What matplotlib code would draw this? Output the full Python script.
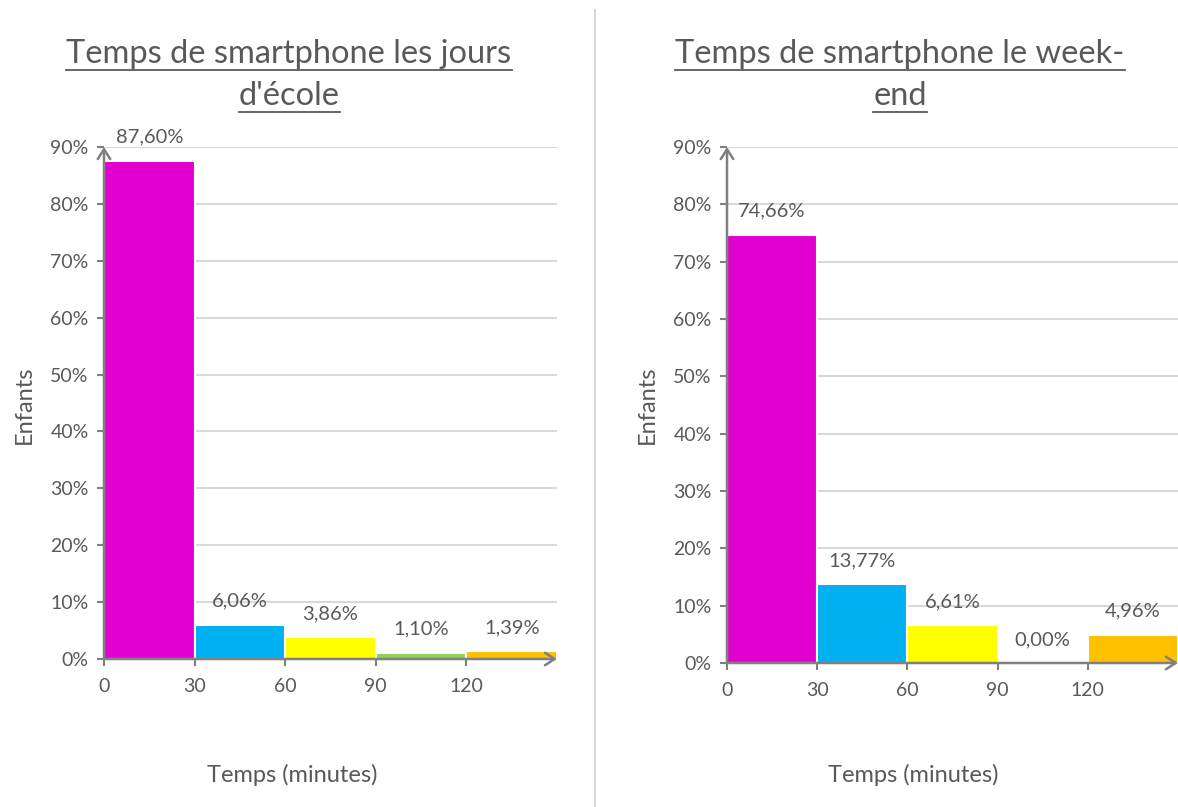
import matplotlib
matplotlib.use("Agg")
import matplotlib.pyplot as plt
from matplotlib.lines import Line2D

# ====== données ======
bins = [0, 30, 60, 90, 120]
x_ticks = [0, 30, 60, 90, 120]
y_ticks = [0, 0.1, 0.2, 0.3, 0.4, 0.5, 0.6, 0.7, 0.8, 0.9]
ecole = [0.8760, 0.0606, 0.0386, 0.0110, 0.0139]
weekend = [0.7466, 0.1377, 0.0661, 0.0000, 0.0496]
bar_colors = ["#E100CF", "#00B0F0", "#FFFF00", "#92D050", "#FFC000"]
titles_ecole = ["Temps de smartphone les jours", "d'école"]
titles_weekend = ["Temps de smartphone le week-", "end"]

TXT = "#595959"
AXC = "#808080"
plt.rcParams['font.family'] = ['Lato', 'DejaVu Sans']

W, H = 1178, 807
fig = plt.figure(figsize=(W / 100, H / 100), dpi=100)


def draw_panel(rect, values, title_lines, title_cx, label_x, xlabel_cx):
    ax = fig.add_axes(rect)
    ax.bar(bins, values, width=30, align='edge', color=bar_colors,
           edgecolor='white', linewidth=1.5, zorder=3)
    ax.set_xlim(0, 150)
    ax.set_ylim(0, 0.9)
    ax.set_yticks(y_ticks)
    ax.set_yticklabels([f"{int(round(t * 100))}%" for t in y_ticks])
    ax.set_xticks(x_ticks)
    ax.tick_params(axis='both', colors=AXC, labelcolor=TXT, labelsize=14,
                   length=5, width=1.5)
    ax.tick_params(axis='x', pad=9)
    ax.tick_params(axis='y', pad=6)
    for s in ax.spines.values():
        s.set_visible(False)
    ax.grid(axis='y', color='#D9D9D9', linewidth=1.5, zorder=0)
    ax.set_axisbelow(True)

    # axes avec flèches
    arrow = dict(arrowstyle='->,head_length=0.7,head_width=0.45',
                 color=AXC, lw=1.8, shrinkA=0, shrinkB=0)
    ax.annotate('', xy=(0, 0.9), xytext=(0, 0), xycoords='data',
                arrowprops=arrow, annotation_clip=False, zorder=5)
    ax.annotate('', xy=(150, 0), xytext=(0, 0), xycoords='data',
                arrowprops=arrow, annotation_clip=False, zorder=5)

    # étiquettes de données
    for b, v in zip(bins, values):
        ax.annotate(f"{v * 100:.2f}%".replace('.', ','), xy=(b + 15, v),
                    xytext=(0, 17), textcoords='offset points',
                    ha='center', va='center', fontsize=14.5, color=TXT,
                    annotation_clip=False, zorder=6)

    # titres soulignés
    fig.canvas.draw()
    r = fig.canvas.get_renderer()
    for i, line in enumerate(title_lines):
        yy = 1 - (54 + 42 * i) / H
        t = fig.text(title_cx / W, yy, line, ha='center', va='center',
                     fontsize=23.5, color=TXT)
        bb = t.get_window_extent(renderer=r)
        uy = (bb.y0 - 1) / H
        fig.add_artist(Line2D([bb.x0 / W, bb.x1 / W], [uy, uy],
                              color=TXT, lw=1.3, transform=fig.transFigure))

    fig.text(label_x / W, 1 - 405 / H, "Enfants", rotation=90, ha='center',
             va='center', fontsize=17, color=TXT)
    fig.text(xlabel_cx / W, 1 - 775 / H, "Temps (minutes)", ha='center',
             va='center', fontsize=17, color=TXT)
    return ax


draw_panel([104 / W, 1 - 659 / H, (557 - 104) / W, (659 - 147) / H],
           ecole, titles_ecole, 289, 24, 292)
draw_panel([727 / W, 1 - 663 / H, (1178 - 727) / W, (663 - 147) / H],
           weekend, titles_weekend, 900, 647, 913)

# séparateur
fig.add_artist(Line2D([595 / W, 595 / W], [0, 1 - 10 / H], color='#D9D9D9',
                      lw=1.5, transform=fig.transFigure))

fig.savefig("out.png", dpi=100, facecolor='white')
